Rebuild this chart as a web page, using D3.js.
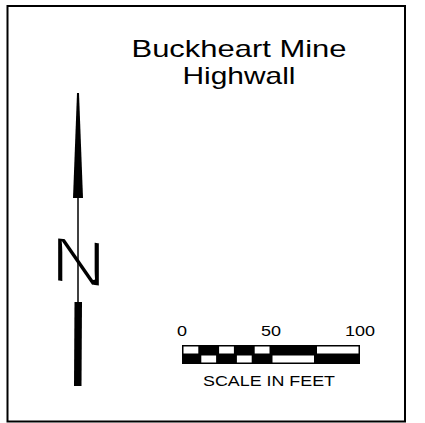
<!DOCTYPE html>
<html>
<head>
<meta charset="utf-8">
<script src="https://cdn.jsdelivr.net/npm/d3@7"></script>
<style>
  html, body { margin: 0; padding: 0; background: #fff; }
  text { font-family: "Liberation Sans", Arial, sans-serif; fill: #000; }
</style>
</head>
<body>
<div id="map"></div>
<script>
// Title lines
var titleLines = ["Buckheart Mine", "Highwall"];

// Scale bar: tick labels (feet) and segment breaks
var scaleTicks = [0, 50, 100];
var segmentBreaks = [0, 10, 20, 30, 40, 50, 75, 100];
// fill of the top row per segment, bottom row is the opposite
var topRowFill = ["white", "black", "white", "black", "white", "black", "white"];
var scaleCaption = "SCALE IN FEET";

var width = 425, height = 423;

var svg = d3.select("#map")
  .append("svg")
  .attr("width", width)
  .attr("height", height);

// Neat line round the map
svg.append("rect")
  .attr("x", 7.5)
  .attr("y", 6)
  .attr("width", 397.5)
  .attr("height", 415.5)
  .attr("fill", "none")
  .attr("stroke", "#000")
  .attr("stroke-width", 2);

// ------------------------------------------------------------
// Title
// ------------------------------------------------------------
var titleLen = [215, 113];
svg.selectAll(".title")
  .data(titleLines)
  .enter().append("text")
  .attr("class", "title")
  .attr("x", 239)
  .attr("y", (d, i) => 57 + i * 27)
  .attr("text-anchor", "middle")
  .attr("font-size", 24)
  .attr("textLength", (d, i) => titleLen[i])
  .attr("lengthAdjust", "spacingAndGlyphs")
  .text(d => d);

// ------------------------------------------------------------
// North arrow
// ------------------------------------------------------------
var cx = 78;
var north = svg.append("g");

// the N letter, sheared a little; white outline thins the strokes
north.append("text")
  .attr("x", 0)
  .attr("y", 0)
  .attr("text-anchor", "middle")
  .attr("font-size", 64)
  .attr("transform", "translate(" + (cx + 0.5) + ",284) skewY(7) scale(1.2,1)")
  .style("stroke", "#fff")
  .style("stroke-width", 1.8)
  .text("N");

// thin shaft
north.append("line")
  .attr("x1", cx).attr("x2", cx)
  .attr("y1", 100).attr("y2", 380)
  .attr("stroke", "#000")
  .attr("stroke-width", 1.5);

// upper tapered blade
north.append("path")
  .attr("d", d3.line()([[cx - 1, 93], [cx + 1, 93], [cx + 5, 198], [cx - 5, 198]]) + "Z")
  .attr("fill", "#000");

// lower blade
north.append("path")
  .attr("d", d3.line()([[cx - 3.5, 302], [cx + 4, 302], [cx + 3.5, 386], [cx - 4, 386]]) + "Z")
  .attr("fill", "#000");

// ------------------------------------------------------------
// Scale bar
// ------------------------------------------------------------
var x = d3.scaleLinear().domain([0, 100]).range([182, 360]);
var barTop = 345, barH = 19;

var bar = svg.append("g");

bar.append("rect")
  .attr("x", x(0)).attr("y", barTop)
  .attr("width", x(100) - x(0)).attr("height", barH)
  .attr("fill", "#000");

var segs = d3.pairs(segmentBreaks).map((p, i) => ({a: p[0], b: p[1], fill: topRowFill[i]}));

// top row white cells
bar.selectAll(".top")
  .data(segs.filter(d => d.fill === "white"))
  .enter().append("rect")
  .attr("x", d => x(d.a) + 1.5)
  .attr("y", barTop + 1.5)
  .attr("width", d => x(d.b) - x(d.a) - 3)
  .attr("height", barH / 2 - 2.5)
  .attr("fill", "#fff");

// bottom row white cells
bar.selectAll(".bottom")
  .data(segs.filter(d => d.fill === "black"))
  .enter().append("rect")
  .attr("x", d => x(d.a) + 1.5)
  .attr("y", barTop + barH / 2 + 1)
  .attr("width", d => x(d.b) - x(d.a) - 3)
  .attr("height", barH / 2 - 2.5)
  .attr("fill", "#fff");

bar.selectAll(".tick")
  .data(scaleTicks)
  .enter().append("text")
  .attr("x", d => x(d))
  .attr("y", 336)
  .attr("text-anchor", "middle")
  .attr("font-size", 15)
  .attr("transform", d => "translate(" + x(d) + ",0) scale(1.2,1) translate(" + (-x(d)) + ",0)")
  .text(d => d);

bar.append("text")
  .attr("x", 269)
  .attr("y", 385.5)
  .attr("text-anchor", "middle")
  .attr("font-size", 14.5)
  .attr("textLength", 132)
  .attr("lengthAdjust", "spacingAndGlyphs")
  .text(scaleCaption);
</script>
</body>
</html>
